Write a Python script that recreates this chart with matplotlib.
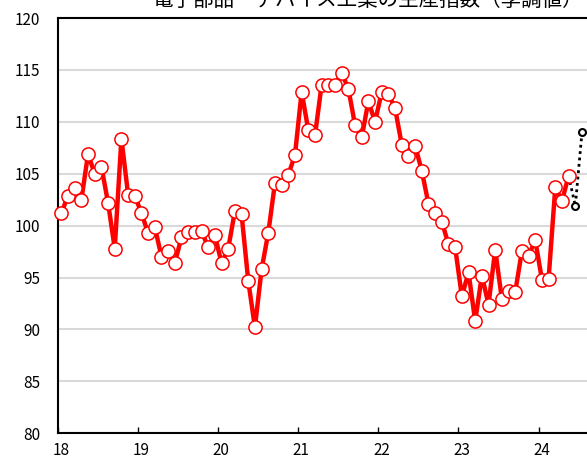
import matplotlib
matplotlib.use('Agg')

import numpy as np
import matplotlib.pyplot as plt
import matplotlib.transforms as mtransforms

plt.rcParams['font.family'] = ['Noto Sans CJK JP', 'DejaVu Sans']

# monthly index, Jan 2018 .. May 2024 (seasonally adjusted)
start_year = 2018
values = [
    101.2, 102.9, 103.6, 102.5, 106.9, 105.0, 105.7, 102.2, 97.8, 108.4, 103.0, 102.9,  # 2018
    101.2, 99.3, 99.9, 97.0, 97.6, 96.4, 98.9, 99.4, 99.4, 99.5, 97.9, 99.1,          # 2019
    96.4, 97.8, 101.4, 101.1, 94.7, 90.2, 95.8, 99.3, 104.1, 103.9, 104.9, 106.8,      # 2020
    112.9, 109.2, 108.7, 113.6, 113.6, 113.6, 114.7, 113.2, 109.7, 108.5, 112.0, 110.0,  # 2021
    112.9, 112.7, 111.3, 107.8, 106.7, 107.7, 105.3, 102.1, 101.2, 100.4, 98.2, 97.9,  # 2022
    93.2, 95.5, 90.8, 95.2, 92.4, 97.7, 92.9, 93.7, 93.6, 97.6, 97.1, 98.6,            # 2023
    94.8, 94.9, 103.7, 102.4, 104.8,                                                  # 2024
]
# forecast (Jun, Jul 2024), drawn from the last actual month
forecast = [101.9, 109.0]

year_ticks = [2018, 2019, 2020, 2021, 2022, 2023, 2024]
year_labels = ['18', '19', '20', '21', '22', '23', '24']
title = '電子部品・デバイス工業の生産指数（季調値）'

def month_pos(i):
    return start_year + (np.asarray(i) + 0.5) / 12

fig = plt.figure(figsize=(5.87, 4.59), dpi=100)
ax = fig.add_axes([58 / 587, 25.7 / 459, 7 * 80.1 / 587, 415.2 / 459])

x = month_pos(np.arange(len(values)))
ax.plot(x, values, color='#ff0000', linewidth=3.2, marker='o', markersize=9.5,
        markerfacecolor='white', markeredgecolor='#ff0000', markeredgewidth=1.1,
        zorder=3, clip_on=False)

n = len(values)
xf = month_pos(np.arange(n - 1, n + len(forecast)))
yf = [values[-1]] + forecast
ax.plot(xf, yf, color='black', linewidth=2, linestyle=(0, (1, 1.3)), zorder=2, clip_on=False)
ax.plot(xf[1:], yf[1:], linestyle='none', marker='o', markersize=5,
        markerfacecolor='white', markeredgecolor='black', markeredgewidth=1.5,
        zorder=4, clip_on=False)

ax.set_xlim(2018, 2025)
ax.set_ylim(80, 120)
ax.set_yticks(np.arange(80, 121, 5))
ax.set_xticks(year_ticks)
ax.set_xticklabels(year_labels)
ax.yaxis.grid(True, color='#d9d9d9', linewidth=1.5)
ax.set_axisbelow(True)

ax.tick_params(axis='y', length=0, pad=13, labelsize=11)
ax.tick_params(axis='x', direction='in', length=4, width=1, pad=6, labelsize=11)
offset = mtransforms.ScaledTranslation(3 / 100, 0, fig.dpi_scale_trans)
for lbl in ax.get_xticklabels():
    lbl.set_transform(lbl.get_transform() + offset)

for side in ['left', 'bottom', 'top', 'right']:
    ax.spines[side].set_linewidth(1.5)
    ax.spines[side].set_color('black')

# title sits partly above the crop, as in the source image
fig.text(368 / 587, 1 - 6 / 459, title, ha='center', va='baseline', fontsize=14.8)

fig.savefig('out.png', dpi=100)
